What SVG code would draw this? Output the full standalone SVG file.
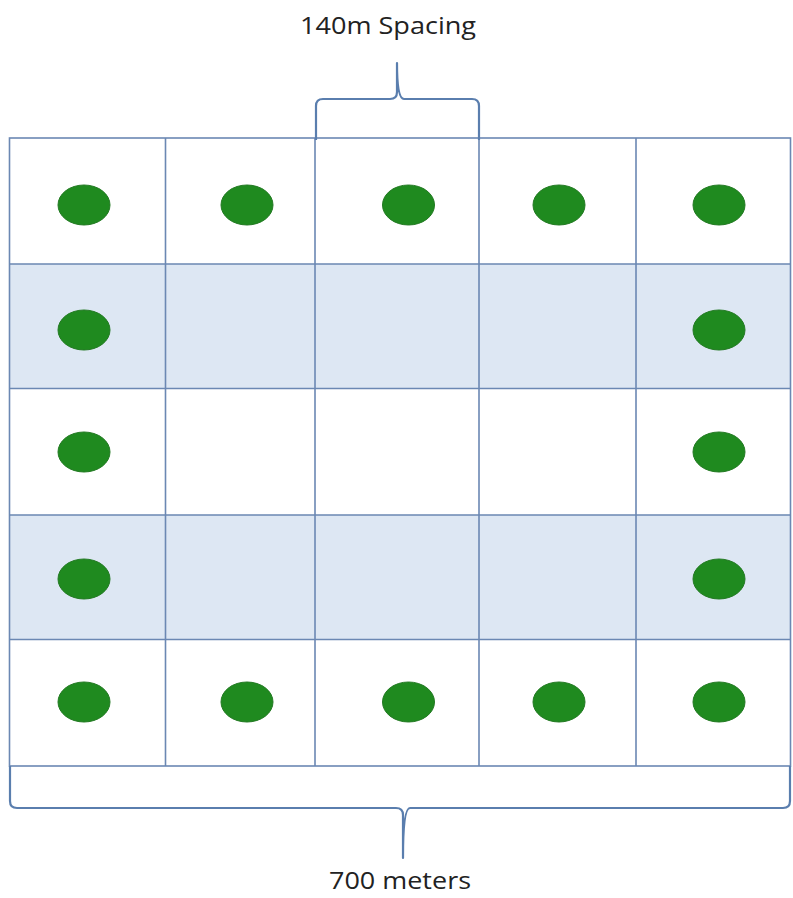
<svg xmlns="http://www.w3.org/2000/svg" width="793" height="898" viewBox="0 0 793 898">
<style>
.band{fill:#dde7f3}
.grid{stroke:#6b88b3;stroke-width:1.6;fill:none}
.dot{fill:#1f8a1f;stroke:#237a23;stroke-width:1}
.brace{stroke:#5a7eae;stroke-width:2.2;fill:none;stroke-linejoin:round}
.lbl{font-family:"Open Sans","Liberation Sans",sans-serif;font-size:23px;fill:#222;text-anchor:middle}
</style>
<rect width="793" height="898" fill="#ffffff"/>
<g id="grid">
<rect class="band" x="9.5" y="264" width="781" height="124.5"/>
<rect class="band" x="9.5" y="515" width="781" height="124.5"/>
<rect class="grid" x="9.5" y="138" width="781" height="628"/>
<path class="grid" d="M9.5 264H790.5M9.5 388.5H790.5M9.5 515H790.5M9.5 639.5H790.5M165.5 138V766M315 138V766M479 138V766M636 138V766"/>
</g>
<g id="dots">
<ellipse class="dot" cx="84" cy="205" rx="26" ry="20"/>
<ellipse class="dot" cx="247" cy="205" rx="26" ry="20"/>
<ellipse class="dot" cx="408.5" cy="205" rx="26" ry="20"/>
<ellipse class="dot" cx="559" cy="205" rx="26" ry="20"/>
<ellipse class="dot" cx="719" cy="205" rx="26" ry="20"/>
<ellipse class="dot" cx="84" cy="330" rx="26" ry="20"/>
<ellipse class="dot" cx="719" cy="330" rx="26" ry="20"/>
<ellipse class="dot" cx="84" cy="452" rx="26" ry="20"/>
<ellipse class="dot" cx="719" cy="452" rx="26" ry="20"/>
<ellipse class="dot" cx="84" cy="579" rx="26" ry="20"/>
<ellipse class="dot" cx="719" cy="579" rx="26" ry="20"/>
<ellipse class="dot" cx="84" cy="702" rx="26" ry="20"/>
<ellipse class="dot" cx="247" cy="702" rx="26" ry="20"/>
<ellipse class="dot" cx="408.5" cy="702" rx="26" ry="20"/>
<ellipse class="dot" cx="559" cy="702" rx="26" ry="20"/>
<ellipse class="dot" cx="719" cy="702" rx="26" ry="20"/>
</g>
<g id="braces">
<path class="brace" d="M316 140V106Q316 99 323 99H390Q397 99 397 92V63Q397 99 404 99H472Q479 99 479 106V140"/>
<path class="brace" d="M10 766V801Q10 808 17 808H396Q403 808 403 815V858Q403 808 410 808H783Q790 808 790 801V766"/>
</g>
<g id="labels">
<text class="lbl" x="388" y="34" textLength="176" lengthAdjust="spacingAndGlyphs">140m Spacing</text>
<text class="lbl" x="400" y="889" font-size="22" textLength="142" lengthAdjust="spacingAndGlyphs">700 meters</text>
</g>
</svg>
